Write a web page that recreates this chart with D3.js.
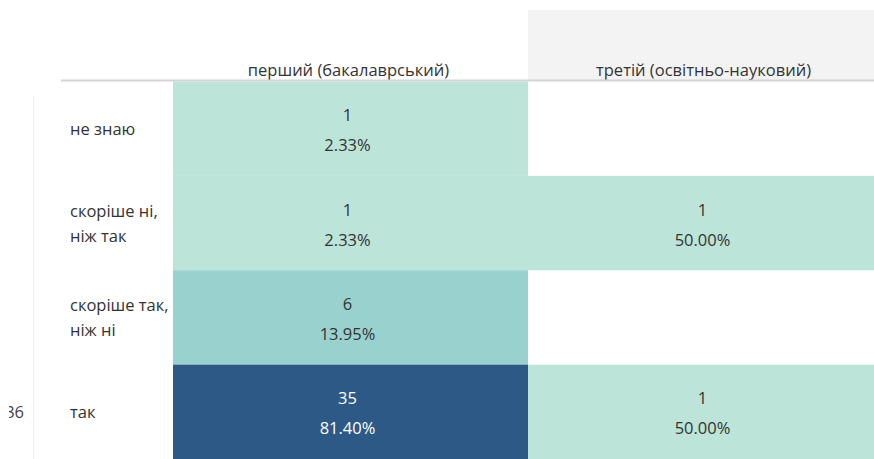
<!DOCTYPE html>
<html>
<head>
<meta charset="utf-8">
<script src="https://cdn.jsdelivr.net/npm/d3@7"></script>
<style>
  html, body { margin: 0; padding: 0; background: #ffffff; overflow: hidden; }
  svg { display: block; }
  text { font-family: "Open Sans", "Noto Sans", sans-serif; }
</style>
</head>
<body>
<svg id="chart" width="874" height="459"></svg>
<script>
// ---- data ----
const columns = ["перший (бакалаврський)", "третій (освітньо-науковий)"];
const rows = ["не знаю", "скоріше ні, ніж так", "скоріше так, ніж ні", "так"];
const rowLabelLines = [["не знаю"], ["скоріше ні,", "ніж так"], ["скоріше так,", "ніж ні"], ["так"]];
const countsFirst = [1, 1, 6, 35];
const percentFirst = [2.33, 2.33, 13.95, 81.40];
const countsThird = [null, 1, null, 1];
const percentThird = [null, 50.00, null, 50.00];
const cutAxisLabel = "36";

// ---- build cells ----
const cells = [];
rows.forEach((r, i) => {
  if (countsFirst[i] != null) cells.push({ col: columns[0], row: r, count: countsFirst[i], pct: percentFirst[i] });
  if (countsThird[i] != null) cells.push({ col: columns[1], row: r, count: countsThird[i], pct: percentThird[i] });
});

const svg = d3.select("#chart");
const W = 874, H = 459;
const FS = 16.5;

const x = d3.scaleBand().domain(columns).range([173, 883]).paddingInner(0).paddingOuter(0);
const y = d3.scaleBand().domain(rows).range([81.5, 459]).paddingInner(0).paddingOuter(0);
const color = d3.scaleLinear().domain([1, 6, 35]).range(["#bce4d8", "#99d1cf", "#2c5985"]);
const textColor = d3.scaleThreshold().domain([20]).range(["#333333", "#ffffff"]);

// header gray background for second column
svg.append("rect")
  .attr("x", x(columns[1])).attr("y", 10)
  .attr("width", x.bandwidth()).attr("height", 70)
  .attr("fill", "#f3f3f3");

// left faint vertical line
svg.append("line")
  .attr("x1", 33.5).attr("x2", 33.5).attr("y1", 96).attr("y2", H)
  .attr("stroke", "#efefef").attr("stroke-width", 1);

// cut-off axis label (clipped on the left)
svg.append("clipPath").attr("id", "leftclip")
  .append("rect").attr("x", 9).attr("y", 0).attr("width", 30).attr("height", H);
svg.append("text")
  .attr("clip-path", "url(#leftclip)")
  .attr("x", 24).attr("y", y("так") + y.bandwidth() / 2)
  .attr("text-anchor", "end").attr("dominant-baseline", "central")
  .attr("font-size", FS).attr("fill", "#444")
  .text(cutAxisLabel);

// cells
const g = svg.append("g");
g.selectAll("rect.cell").data(cells).join("rect")
  .attr("class", "cell")
  .attr("x", d => x(d.col)).attr("y", d => y(d.row))
  .attr("width", x.bandwidth()).attr("height", y.bandwidth())
  .attr("fill", d => color(d.count));

g.selectAll("text.count").data(cells).join("text")
  .attr("class", "count")
  .attr("x", d => x(d.col) + x.bandwidth() / 2 - 3)
  .attr("y", d => y(d.row) + y.bandwidth() / 2 - 14)
  .attr("text-anchor", "middle").attr("dominant-baseline", "central")
  .attr("font-size", FS)
  .attr("fill", d => textColor(d.count))
  .text(d => d.count);

g.selectAll("text.pct").data(cells).join("text")
  .attr("class", "pct")
  .attr("x", d => x(d.col) + x.bandwidth() / 2 - 3)
  .attr("y", d => y(d.row) + y.bandwidth() / 2 + 16)
  .attr("text-anchor", "middle").attr("dominant-baseline", "central")
  .attr("font-size", FS)
  .attr("fill", d => textColor(d.count))
  .text(d => d3.format(".2f")(d.pct) + "%");

// header texts
svg.selectAll("text.colhead").data(columns).join("text")
  .attr("class", "colhead")
  .attr("x", d => x(d) + x.bandwidth() / 2 - 2)
  .attr("y", 69)
  .attr("text-anchor", "middle").attr("dominant-baseline", "central")
  .attr("font-size", FS).attr("fill", "#333")
  .text(d => d);

// header rule
svg.append("line")
  .attr("x1", 61).attr("x2", W).attr("y1", 80.5).attr("y2", 80.5)
  .attr("stroke", "#d4d4d4").attr("stroke-width", 2);

// row labels
const rl = svg.selectAll("g.rowlabel").data(rows).join("g").attr("class", "rowlabel");
rl.each(function (r, i) {
  const lines = rowLabelLines[i];
  const cy = y(r) + y.bandwidth() / 2;
  const lh = 25;
  d3.select(this).selectAll("text").data(lines).join("text")
    .attr("x", 70)
    .attr("y", (d, k) => cy + (k - (lines.length - 1) / 2) * lh)
    .attr("dominant-baseline", "central")
    .attr("font-size", FS).attr("fill", "#333")
    .text(d => d);
});
</script>
</body>
</html>
